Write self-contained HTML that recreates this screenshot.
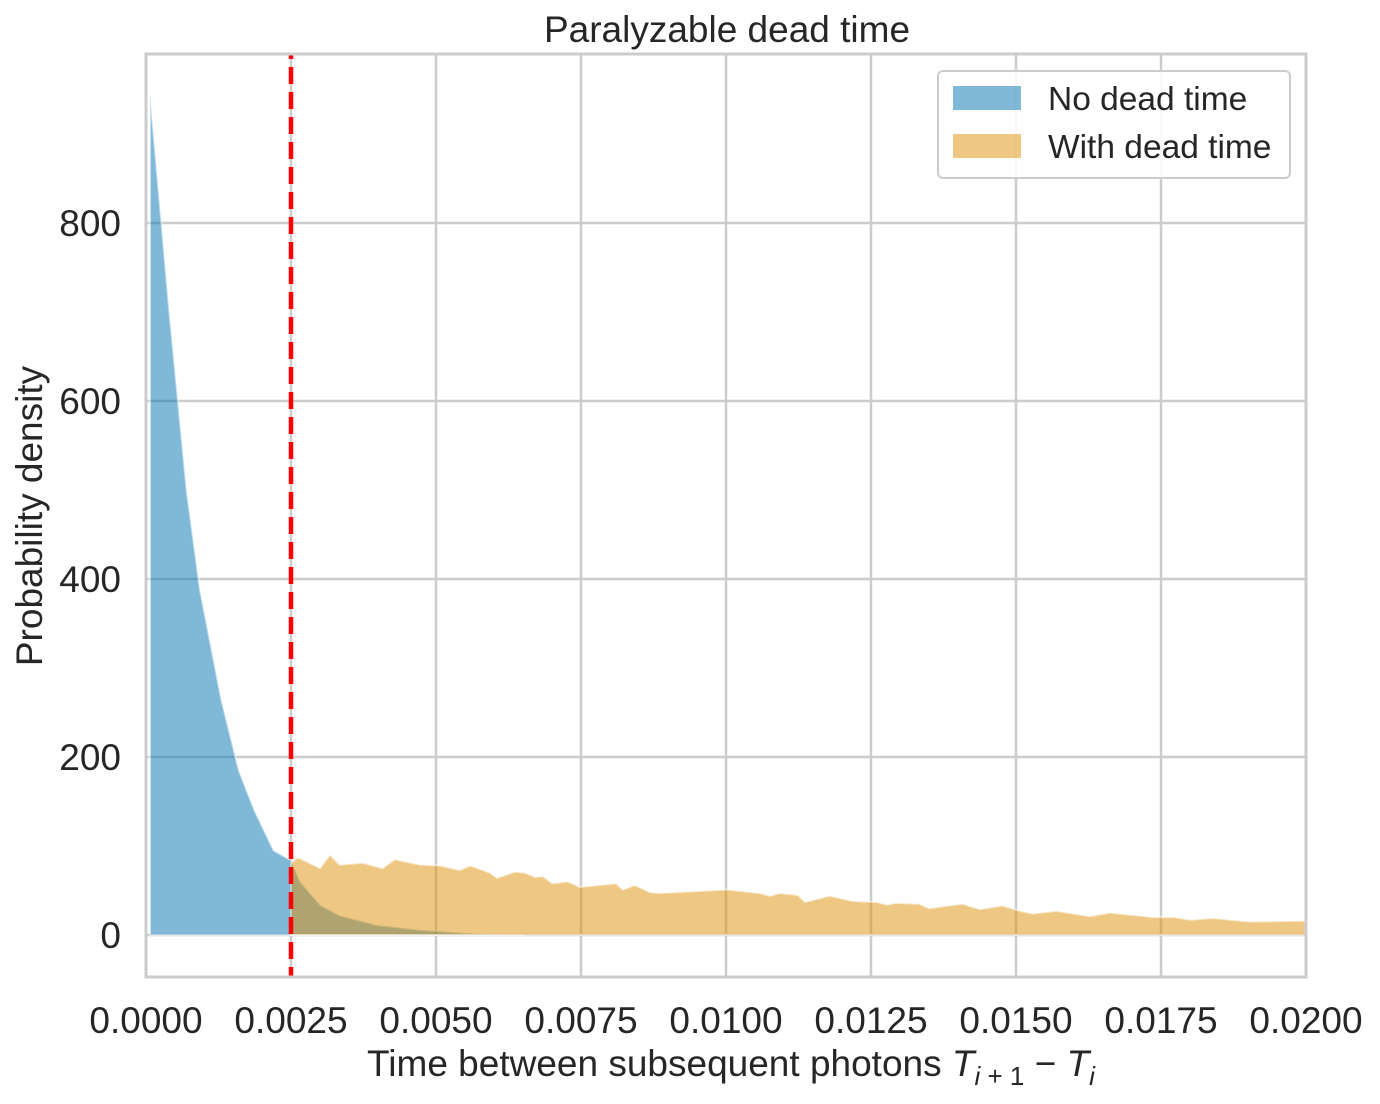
<!DOCTYPE html>
<html><head><meta charset="utf-8"><style>
body{margin:0;background:#fff;}
svg text{font-family:"Liberation Sans",Arial,sans-serif;fill:#262626;}
</style></head><body>
<svg id="chart" width="1380" height="1099" xmlns="http://www.w3.org/2000/svg">
<g id="grid"></g>
<g id="series"></g>
<line id="deadline" stroke="#ff0000" stroke-width="4.5" stroke-dasharray="17,8" stroke-dashoffset="12"/>
<rect x="146" y="54" width="1160" height="923" fill="none" stroke="#cccccc" stroke-width="3"/>
<g id="ticks"></g>
<text x="727" y="42" font-size="37" text-anchor="middle">Paralyzable dead time</text>
<text x="731" y="1076" font-size="37" text-anchor="middle">Time between subsequent photons <tspan font-style="italic">T</tspan><tspan font-size="26" dy="9" font-style="italic">i</tspan><tspan font-size="26"> + 1</tspan><tspan dy="-9"> − </tspan><tspan font-style="italic">T</tspan><tspan font-size="26" dy="9" font-style="italic">i</tspan></text>
<text transform="translate(42,516) rotate(-90)" font-size="37" text-anchor="middle">Probability density</text>
<g>
<rect x="938" y="71" width="352" height="107" rx="5" fill="#fff" fill-opacity="0.85" stroke="#cccccc" stroke-width="2"/>
<rect x="953" y="86" width="68" height="24" fill="#0173b2" fill-opacity="0.5"/>
<text x="1048" y="110" font-size="33.5">No dead time</text>
<rect x="953" y="134" width="68" height="24" fill="#de8f05" fill-opacity="0.5"/>
<text x="1048" y="158" font-size="33.5">With dead time</text>
</g>
</svg>
<script>
const xTicks=[0,0.0025,0.005,0.0075,0.01,0.0125,0.015,0.0175,0.02];
const xTickLabels=["0.0000","0.0025","0.0050","0.0075","0.0100","0.0125","0.0150","0.0175","0.0200"];
const yTicks=[0,200,400,600,800];
const deadTime=0.0025;
const blueT=[0.00007,0.0004,0.0007,0.00093,0.0013,0.0016,0.00187,0.0022,0.0025,0.00266,0.003,0.00334,0.004,0.0047,0.0058,0.0065];
const blueV=[944,702,500,388,264,185,140,95,84,60,34,22,11,6,1,0];
const orangeT=[0.0025,0.00261,0.00266,0.00300,0.00317,0.00334,0.00374,0.00408,0.00429,0.00472,0.00507,0.00541,0.00559,0.00593,0.00605,0.00636,0.00653,0.00671,0.00684,0.00701,0.00727,0.00748,0.00812,0.00812,0.00822,0.00843,0.00869,0.00886,0.01002,0.01058,0.01076,0.01093,0.01124,0.01136,0.01179,0.01219,0.01259,0.01279,0.01293,0.01333,0.01350,0.01407,0.01438,0.01477,0.01507,0.01529,0.01570,0.01589,0.01627,0.01662,0.01722,0.01736,0.01774,0.01800,0.01840,0.01869,0.01903,0.02];
const orangeV=[81,87,86,75,90,79,81,75,85,79,78,73,78,70,64,71,70,65,66,58,60,54,58,57,51,56,48,47,51,47,44,47,45,37,44,38,37,34,36,35,30,35,29,33,27,24,27,25,21,25,21,20,20,17,19,17,15,16];
const L=146,R=1306,T=54,B=977;
const X=t=>L+(t-0)/(0.02)*(R-L);
const Y=v=>935-v*0.89;
const NS="http://www.w3.org/2000/svg";
function mk(tag,attrs,parent){const e=document.createElementNS(NS,tag);for(const k in attrs)e.setAttribute(k,attrs[k]);parent.appendChild(e);return e;}
const grid=document.getElementById('grid'),ticks=document.getElementById('ticks'),series=document.getElementById('series');
xTicks.forEach((t,i)=>{
 const g=mk('line',{x1:X(t),x2:X(t),y1:T,y2:B,stroke:'#cccccc','stroke-width':2.5},grid);
 
 
 const tx=mk('text',{x:X(t),y:1033,'font-size':37,'text-anchor':'middle'},ticks);
 tx.textContent=xTickLabels[i];
 
 
});
yTicks.forEach(v=>{
 const g=mk('line',{x1:L,x2:R,y1:Y(v),y2:Y(v),stroke:'#cccccc','stroke-width':2.5},grid);
 
 
 const tx=mk('text',{x:121,y:Y(v)+13,'font-size':37,'text-anchor':'end'},ticks);
 tx.textContent=String(v);
 
 
});
function area(ts,vs,color,name){
 let d='M'+X(ts[0])+','+Y(0);
 ts.forEach((t,i)=>{d+=' L'+X(t)+','+Y(vs[i]);});
 d+=' L'+X(ts[ts.length-1])+','+Y(0)+' Z';
 const p=mk('path',{d:d,fill:color,'fill-opacity':0.5,stroke:'#ffffff','stroke-opacity':0.5,'stroke-width':2},series);
 
 
}
area(blueT,blueV,'#0173b2','area-no-dead-time');
area(orangeT,orangeV,'#de8f05','area-with-dead-time');
const dl=document.getElementById('deadline');
dl.setAttribute('x1',X(deadTime));dl.setAttribute('x2',X(deadTime));
dl.setAttribute('y1',T);dl.setAttribute('y2',B);
</script>
</body></html>
